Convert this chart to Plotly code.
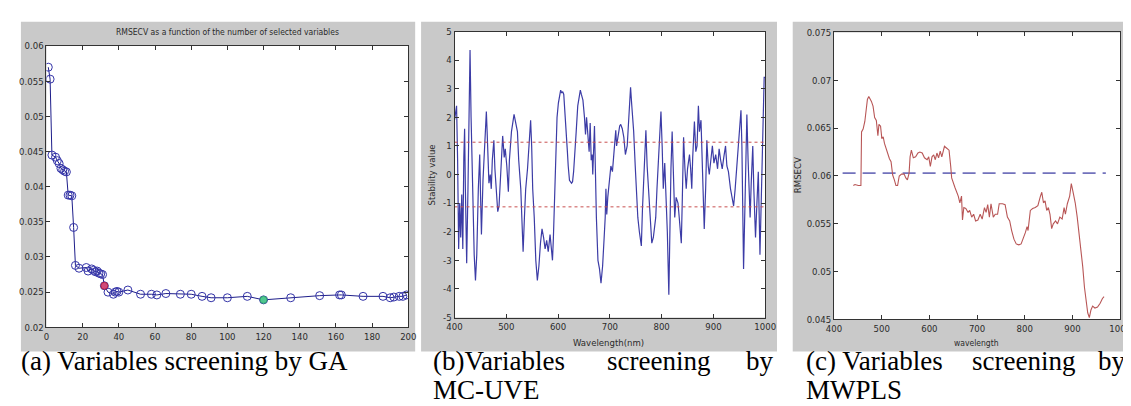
import plotly.graph_objects as go

W, H = 1131, 406

# ---------------- data: (a) GA ----------------
ga_nvar = [1, 2, 3, 5, 6, 7, 8, 9, 10, 11, 12, 13, 14, 15, 16, 18, 22, 23, 25, 26, 27, 28, 29, 30, 31,
           32, 34, 37, 38, 39, 40, 45, 52, 58, 61, 66, 74, 80, 86, 91, 100, 111, 120, 135, 151, 162,
           163, 175, 186, 190, 192, 195, 197, 199]
ga_rmsecv = [0.0570, 0.0553, 0.0445, 0.0442, 0.0437, 0.0433, 0.0426, 0.0424, 0.0422, 0.0421, 0.0388,
             0.0388, 0.0387, 0.0342, 0.0288, 0.0284, 0.0285, 0.0280, 0.0283, 0.0281, 0.0279, 0.0280,
             0.0277, 0.0276, 0.0275, 0.0259, 0.0250, 0.0247, 0.0250, 0.0251, 0.0250, 0.0253, 0.0247,
             0.0247, 0.0246, 0.0248, 0.0247, 0.0247, 0.0244, 0.0242, 0.0242, 0.0244, 0.0239, 0.0242,
             0.0245, 0.0246, 0.0246, 0.0244, 0.0244, 0.0242, 0.0243, 0.0244, 0.0244, 0.0246]
ga_red_n = [32]
ga_red_v = [0.0259]
ga_green_n = [120]
ga_green_v = [0.0239]
ga_title = "RMSECV as a function of the number of selected variables"
ga_xticks = [0, 20, 40, 60, 80, 100, 120, 140, 160, 180, 200]
ga_yticks = [0.02, 0.025, 0.03, 0.035, 0.04, 0.045, 0.05, 0.055, 0.06]
ga_yticktext = ["0.02", "0.025", "0.03", "0.035", "0.04", "0.045", "0.05", "0.055", "0.06"]

# ---------------- data: (b) MC-UVE ----------------
uve_wl = [400, 402, 404, 406, 408, 410, 412, 414, 416, 418, 419.5, 421, 423.5, 426, 428, 430, 432, 435,
          438, 440.5, 443, 446, 448.7, 450, 452, 455, 458, 461.5, 463, 466.5, 469, 471, 473, 476, 478,
          480.5, 483.5, 486, 489, 493, 496, 498, 501, 504, 506, 510, 515, 518, 521.5, 524, 528, 530,
          532.5, 535, 537.5, 541, 544, 547, 549, 551, 554, 557, 560, 563, 566, 569, 572, 575, 578, 581,
          584.5, 587, 589.2, 591, 593, 594.3, 596, 598, 600.6, 603, 605, 607, 609, 611, 613.3, 616, 618,
          619.6, 622, 626, 628, 630, 632.3, 635, 638, 641, 643, 645, 648, 651, 653, 655, 657.6, 660, 662,
          664, 665.8, 667, 670.3, 672, 674, 677, 680, 682.9, 686, 689, 691, 692.4, 694, 696, 699, 702,
          705, 708, 711.4, 713, 716.5, 719, 721, 724, 727, 730, 733.5, 736, 740, 742, 746, 749, 751, 754,
          757, 760.8, 763, 765, 767, 769.6, 772, 774.7, 777, 780, 781, 784, 786, 788.6, 791, 794, 797,
          798.7, 801, 803.2, 806, 809.5, 811, 813.9, 816, 818, 820.3, 822, 825.3, 828, 831.6, 834, 838,
          840, 842.4, 845, 847.5, 850, 853.8, 856, 858.2, 860, 863.3, 866, 868.4, 871, 873, 876, 879,
          882.3, 885, 887.3, 890, 892, 895, 898, 901, 904.4, 908, 911, 914, 917, 920, 923.4, 926, 929,
          933, 936, 939, 942, 945, 948.7, 951, 953.2, 955, 958.2, 961, 964.6, 967, 970.9, 973, 976, 978,
          981.3, 984, 986.7, 989.9, 992, 994, 996, 998, 1000]
uve_stab = [1.9, 2.2, 2.4, 0.5, -2.6, -1.0, -2.2, -0.7, -2.6, 0.6, 1.6, -0.5, -3.1, -0.5, 2.5, 4.35, 2.0,
            -1.0, -2.8, -3.7, -2.8, -0.5, 0.7, -0.5, -2.1, -0.2, 1.2, 2.2, 1.5, -0.3, 0.0, -0.5, 0.5, 1.2,
            0.2, -0.5, -1.3, -1.1, 0.0, 1.35, 0.6, 0.9, 0.3, -0.6, 0.5, 1.5, 2.1, 1.8, 1.5, 0.5, -0.5,
            -1.5, -2.7, -1.5, -0.5, 0.2, 1.0, 1.9, 1.0, -0.5, -1.5, -3.0, -3.7, -3.2, -2.4, -1.9, -2.2,
            -2.6, -2.3, -2.7, -2.1, -2.5, -3.0, -2.2, -1.2, -0.3, 1.0, 2.0, 2.5, 2.8, 2.95, 2.85, 2.9, 2.8,
            2.0, 1.0, 0.8, 0.3, -0.2, -0.3, -0.25, 0.1, 0.6, 1.5, 2.4, 2.8, 2.95, 2.8, 2.6, 2.0, 1.4, 2.0,
            1.3, 0.8, 1.8, 0.5, 0.7, 0.0, 1.7, 0.0, -1.5, -3.0, -3.3, -3.8, -3.2, -2.2, -1.5, -0.5, -1.4,
            -0.8, -0.2, 0.3, 0.1, 0.8, 1.55, 1.0, 1.4, 1.7, 1.75, 1.6, 1.3, 0.7, 1.0, 2.0, 3.05, 2.5, 1.5,
            0.3, -0.5, -1.5, -2.0, -2.5, -1.2, -0.5, 0.5, 1.55, 0.3, -0.5, -1.2, -2.2, -2.4, -2.2, -1.8,
            -1.5, -0.5, 0.5, 1.6, 2.2, 1.0, -0.5, 0.4, -1.0, -2.0, -4.2, -1.5, 0.2, 1.5, 0.5, -1.5, -0.8,
            -1.0, -1.5, -2.4, -0.8, 1.3, 0.2, -0.5, 0.2, 0.7, 0.2, -0.5, 0.6, 1.85, 0.8, 1.0, 2.4, 1.5,
            1.9, 0.2, -1.9, -0.5, 1.2, 0.3, 0.0, 0.5, 1.0, 0.4, 0.7, 0.2, 0.9, 0.5, 0.2, 0.6, 1.0, 0.3,
            0.1, -0.5, -0.8, -1.1, -0.5, 0.3, 1.1, 1.8, 2.25, 1.0, -3.3, -1.0, 2.1, 0.5, -1.5, -0.3, 1.0,
            -0.5, -2.2, -1.0, 0.1, -2.8, -1.0, 0.5, 2.0, 3.4, 3.4]
uve_cutoff = 1.13
uve_xticks = [400, 500, 600, 700, 800, 900, 1000]
uve_yticks = [-5, -4, -3, -2, -1, 0, 1, 2, 3, 4, 5]

# ---------------- data: (c) MWPLS ----------------
mw_wl = [440.5, 444, 451, 456.4, 457.7, 461, 464.6, 470, 472.9, 478.4, 481.8, 485.2, 488.7, 492, 494.2,
         497.6, 500.3, 503.1, 505.8, 511.3, 516.2, 519.6, 523, 526.5, 529.9, 533.3, 536.8, 541.6, 547,
         550.5, 553.9, 557.4, 559.5, 562.2, 566.3, 571.1, 576, 580, 584.9, 589.7, 595.2, 598.6, 602,
         605.5, 609, 612.4, 615.8, 619.2, 622.7, 626, 631.6, 636.4, 641.2, 644.7, 646.7, 653.6, 660.5,
         663.9, 667.4, 669.4, 672.2, 676.3, 681.1, 684.5, 688.7, 692.8, 696.9, 701.7, 706.5, 710.7,
         715.5, 718.9, 722.3, 725.8, 729.2, 734, 738.1, 743, 746.4, 753.3, 758.8, 763.6, 768.4, 772.5,
         777.3, 782.1, 787.6, 792.4, 797.9, 801.4, 804.8, 806.9, 811.7, 816.5, 822, 827.5, 832.3, 835.7,
         839.2, 842.6, 846, 849.5, 852.9, 856.4, 859.8, 864.6, 868.7, 873.5, 878.4, 882.5, 885.2, 889.3,
         894.2, 897.6, 901, 905.8, 910, 914.8, 918.2, 921.6, 925.1, 928.5, 932, 935.4, 938.8, 942.3,
         947.1, 952.6, 958.1, 962.9, 966.3]
mw_rmsecv = [0.0590, 0.0591, 0.0590, 0.0590, 0.0646, 0.0649, 0.0657, 0.0680, 0.0683, 0.0678, 0.0673,
             0.0661, 0.0658, 0.0642, 0.0654, 0.0652, 0.0639, 0.0641, 0.0634, 0.0624, 0.0618, 0.0615,
             0.0601, 0.0596, 0.0590, 0.0590, 0.0600, 0.0602, 0.0602, 0.0598, 0.0596, 0.0603, 0.0620,
             0.0627, 0.0619, 0.0620, 0.0624, 0.0625, 0.0624, 0.0619, 0.0617, 0.0620, 0.0610, 0.0620,
             0.0622, 0.0617, 0.0624, 0.0619, 0.0626, 0.0620, 0.0631, 0.0629, 0.0627, 0.0610, 0.0598,
             0.0588, 0.0579, 0.0572, 0.0579, 0.0554, 0.0567, 0.0566, 0.0562, 0.0564, 0.0557, 0.0560,
             0.0553, 0.0554, 0.0560, 0.0555, 0.0567, 0.0562, 0.0570, 0.0557, 0.0571, 0.0557, 0.0560,
             0.0560, 0.0571, 0.0571, 0.0570, 0.0557, 0.0553, 0.0543, 0.0534, 0.0529, 0.0528, 0.0529,
             0.0536, 0.0541, 0.0547, 0.0543, 0.0564, 0.0566, 0.0567, 0.0569, 0.0578, 0.0583, 0.0572,
             0.0574, 0.0564, 0.0567, 0.0560, 0.0545, 0.0550, 0.0553, 0.0550, 0.0557, 0.0555, 0.0567,
             0.0560, 0.0571, 0.0579, 0.0592, 0.0584, 0.0572, 0.0557, 0.0538, 0.0524, 0.0505, 0.0484,
             0.0467, 0.0457, 0.0452, 0.0460, 0.0464, 0.0462, 0.0463, 0.0467, 0.0472, 0.0474]
mw_ref = 0.0603
mw_ref_wl = [418, 970]
mw_xticks = [400, 500, 600, 700, 800, 900, 1000]
mw_yticks = [0.045, 0.05, 0.055, 0.06, 0.065, 0.07, 0.075]
mw_yticktext = ["0.045", "0.05", "0.055", "0.06", "0.065", "0.07", "0.075"]

captions = ["(a) Variables screening by GA", "(b)Variables", "screening", "by", "MC-UVE",
            "(c) Variables", "screening", "by", "MWPLS"]

# ---------------- helpers ----------------
def px(x):
    return x / W


def py(y):
    return 1 - y / H


SANS = "Liberation Sans Narrow, DejaVu Sans Condensed, Liberation Sans, Arial"
TICKFONT = dict(family=SANS, size=9.5, color="#2b2b2b")
SERIF = "Liberation Serif, Times New Roman, serif"


def axis(domain, rng, tickvals, ticktext, anchor):
    return dict(domain=domain, range=rng, tickvals=tickvals, ticktext=ticktext,
                ticks="inside", ticklen=4, tickwidth=1, tickcolor="#333",
                showline=True, linecolor="#333", linewidth=1, mirror="ticks",
                showgrid=False, zeroline=False, tickfont=TICKFONT, anchor=anchor,
                fixedrange=True)


fig = go.Figure()

# (a)
fig.add_trace(go.Scatter(x=ga_nvar, y=ga_rmsecv, mode="lines+markers", xaxis="x", yaxis="y",
                         line=dict(color="#1e1e8a", width=1),
                         marker=dict(symbol="circle-open", size=8, color="#3434a8",
                                     line=dict(width=1, color="#3434a8")),
                         showlegend=False))
fig.add_trace(go.Scatter(x=ga_red_n, y=ga_red_v, mode="markers", xaxis="x", yaxis="y",
                         marker=dict(symbol="circle", size=7, color="#d04a7a",
                                     line=dict(width=1, color="#b02040")),
                         showlegend=False))
fig.add_trace(go.Scatter(x=ga_green_n, y=ga_green_v, mode="markers", xaxis="x", yaxis="y",
                         marker=dict(symbol="circle", size=7, color="#50c890",
                                     line=dict(width=1, color="#30a070")),
                         showlegend=False))

# (b)
fig.add_trace(go.Scatter(x=uve_wl, y=uve_stab, mode="lines", xaxis="x2", yaxis="y2",
                         line=dict(color="#3c3ca6", width=1.2), showlegend=False))
for c in (uve_cutoff, -uve_cutoff):
    fig.add_trace(go.Scatter(x=[uve_xticks[0], uve_xticks[-1]], y=[c, c], mode="lines",
                             xaxis="x2", yaxis="y2",
                             line=dict(color="#c85050", width=1, dash="dot"), showlegend=False))

# (c)
fig.add_trace(go.Scatter(x=mw_ref_wl, y=[mw_ref, mw_ref], mode="lines", xaxis="x3", yaxis="y3",
                         line=dict(color="#7272bc", width=1.6, dash="13px,7px"), showlegend=False))
fig.add_trace(go.Scatter(x=mw_wl, y=mw_rmsecv, mode="lines", xaxis="x3", yaxis="y3",
                         line=dict(color="#b85656", width=1.1), showlegend=False))

GRAY = "#c9c9c9"
shapes = []
panels = [(5, 8, 406, 347, 31, 33, 399, 322),
          (412, 8, 774, 347, 446, 18, 762, 312),
          (790, 8, 1131, 347, 832, 19, 1123, 314)]
for gx0, gy0, gx1, gy1, x0, y0, x1, y1 in panels:
    shapes.append(dict(type="rect", xref="paper", yref="paper", x0=px(gx0), x1=px(gx1),
                       y0=py(gy1), y1=py(gy0), fillcolor=GRAY, line=dict(width=0), layer="below"))
    shapes.append(dict(type="rect", xref="paper", yref="paper", x0=px(x0), x1=px(x1),
                       y0=py(y1), y1=py(y0), fillcolor="white", line=dict(width=0), layer="below"))

pa, pb, pc = panels
fig.update_layout(
    width=W, height=H, margin=dict(l=0, r=0, t=0, b=0),
    paper_bgcolor="white", plot_bgcolor="white", showlegend=False,
    shapes=shapes,
    xaxis=axis([px(pa[4]), px(pa[6])], [0, 200], ga_xticks, [str(v) for v in ga_xticks], "y"),
    yaxis=axis([py(pa[7]), py(pa[5])], [0.02, 0.06], ga_yticks, ga_yticktext, "x"),
    xaxis2=axis([px(pb[4]), px(pb[6])], [400, 1000], uve_xticks, [str(v) for v in uve_xticks], "y2"),
    yaxis2=axis([py(pb[7]), py(pb[5])], [-5, 5], uve_yticks, [str(v) for v in uve_yticks], "x2"),
    xaxis3=axis([px(pc[4]), px(pc[6])], [400, 1000], mw_xticks, [str(v) for v in mw_xticks], "y3"),
    yaxis3=axis([py(pc[7]), py(pc[5])], [0.045, 0.075], mw_yticks, mw_yticktext, "x3"),
)

ann = [
    dict(text=ga_title, x=px(215), y=py(19), size=8.5),
    dict(text="Wavelength(nm)", x=px(603), y=py(338), size=9.5),
    dict(text="Stability value", x=px(423), y=py(165), size=9.5, textangle=-90),
    dict(text="wavelength", x=px(977), y=py(338), size=8.5),
    dict(text="RMSECV", x=px(795), y=py(166), size=9.5, textangle=-90),
]
for a in ann:
    size = a.pop("size")
    a.update(xref="paper", yref="paper", showarrow=False, xanchor="center", yanchor="middle",
             font=dict(family=SANS, size=size, color="#2b2b2b"))
    fig.add_annotation(**a)

CAP = dict(family=SERIF, size=27, color="black")
cap_pos = [(4, 357, "left"), (423, 357, "left"), (653, 357, "center"), (772, 357, "right"),
           (423, 386, "left"), (802, 357, "left"), (1025, 357, "center"), (1130, 357, "right"),
           (802, 386, "left")]
for text, (x, y, anc) in zip(captions, cap_pos):
    fig.add_annotation(text=text, x=px(x), y=py(y), xref="paper", yref="paper", showarrow=False,
                       xanchor=anc, yanchor="middle", font=CAP, borderpad=0)

fig.write_html("out.html")
